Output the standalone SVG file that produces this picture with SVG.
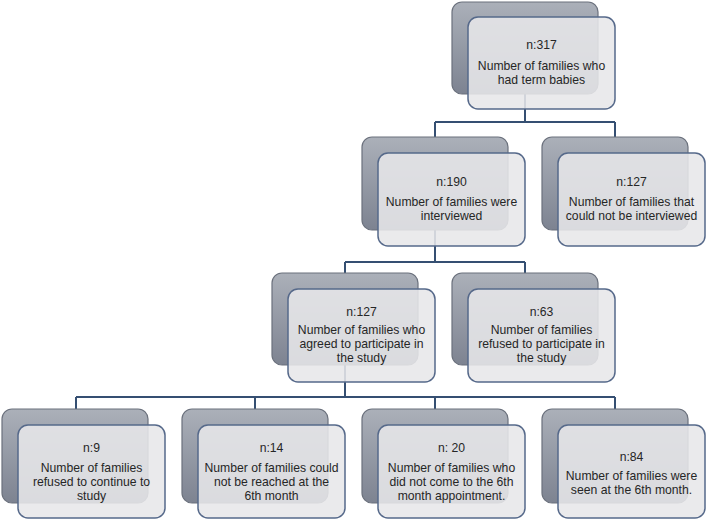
<svg xmlns="http://www.w3.org/2000/svg" width="708" height="519" viewBox="0 0 708 519">
<defs>
<linearGradient id="bg" x1="0" y1="0" x2="0" y2="1">
<stop offset="0" stop-color="#abb0b9"/>
<stop offset="1" stop-color="#7d8391"/>
</linearGradient>
<style>
.back{fill:url(#bg);stroke:#6b717d;stroke-width:1.2}
.front{fill:#e7e7e9;fill-opacity:0.88;stroke:#56698a;stroke-width:1.5}
.conn{fill:none;stroke:#354f72;stroke-width:2}
text{font-family:"Liberation Sans",Arial,sans-serif;font-size:12.2px;fill:#262626;text-anchor:middle}
</style>
</defs>
<rect width="708" height="519" fill="#ffffff"/>
<g id="connectors">
<path class="conn" d="M525 93 V122 M435 122 H615 M435 122 V137 M615 122 V137"/>
<path class="conn" d="M435 230 V262 M345 262 H525 M345 262 V273 M525 262 V273"/>
<path class="conn" d="M345 365 V397 M76 397 H615 M76 397 V409 M255 397 V409 M435 397 V409 M615 397 V409"/>
</g>
<g id="n317">
<rect class="back" x="452" y="2" width="146" height="92" rx="10"/>
<rect class="front" x="468" y="17" width="147" height="92" rx="10"/>
<text x="541.5" y="49">n:317</text>
<text x="541.5" y="70">Number of families who</text>
<text x="541.5" y="84">had term babies</text>
</g>
<g id="n190">
<rect class="back" x="362" y="137" width="146" height="93" rx="10"/>
<rect class="front" x="378" y="153" width="147" height="93" rx="10"/>
<text x="451.5" y="186">n:190</text>
<text x="451.5" y="206">Number of families were</text>
<text x="451.5" y="220">interviewed</text>
</g>
<g id="n127b">
<rect class="back" x="542" y="137" width="146" height="93" rx="10"/>
<rect class="front" x="558" y="153" width="147" height="93" rx="10"/>
<text x="631.5" y="186">n:127</text>
<text x="631.5" y="206">Number of families  that</text>
<text x="631.5" y="220">could not be interviewed</text>
</g>
<g id="n127a">
<rect class="back" x="272" y="273" width="146" height="92" rx="10"/>
<rect class="front" x="288" y="289" width="147" height="93" rx="10"/>
<text x="361.5" y="316">n:127</text>
<text x="361.5" y="334">Number of families who</text>
<text x="361.5" y="348">agreed to participate in</text>
<text x="361.5" y="362">the study</text>
</g>
<g id="n63">
<rect class="back" x="452" y="273" width="146" height="92" rx="10"/>
<rect class="front" x="468" y="289" width="147" height="93" rx="10"/>
<text x="541.5" y="316">n:63</text>
<text x="541.5" y="334">Number of families</text>
<text x="541.5" y="348">refused to participate in</text>
<text x="541.5" y="362">the study</text>
</g>
<g id="n9">
<rect class="back" x="2" y="409" width="146" height="94" rx="10"/>
<rect class="front" x="18" y="425" width="147" height="93" rx="10"/>
<text x="91.5" y="452">n:9</text>
<text x="91.5" y="472">Number of families</text>
<text x="91.5" y="486">refused to continue to</text>
<text x="91.5" y="500">study</text>
</g>
<g id="n14">
<rect class="back" x="182" y="409" width="146" height="94" rx="10"/>
<rect class="front" x="198" y="425" width="147" height="93" rx="10"/>
<text x="271.5" y="452">n:14</text>
<text x="271.5" y="472">Number of families could</text>
<text x="271.5" y="486">not be reached at the</text>
<text x="271.5" y="500">6th month</text>
</g>
<g id="n20">
<rect class="back" x="362" y="409" width="146" height="94" rx="10"/>
<rect class="front" x="378" y="425" width="147" height="93" rx="10"/>
<text x="451.5" y="452">n: 20</text>
<text x="451.5" y="472">Number of families who</text>
<text x="451.5" y="486">did not come to the 6th</text>
<text x="451.5" y="500">month appointment.</text>
</g>
<g id="n84">
<rect class="back" x="542" y="409" width="146" height="94" rx="10"/>
<rect class="front" x="558" y="425" width="147" height="93" rx="10"/>
<text x="631.5" y="461">n:84</text>
<text x="631.5" y="480">Number of families were</text>
<text x="631.5" y="494">seen at the 6th month.</text>
</g>
</svg>
